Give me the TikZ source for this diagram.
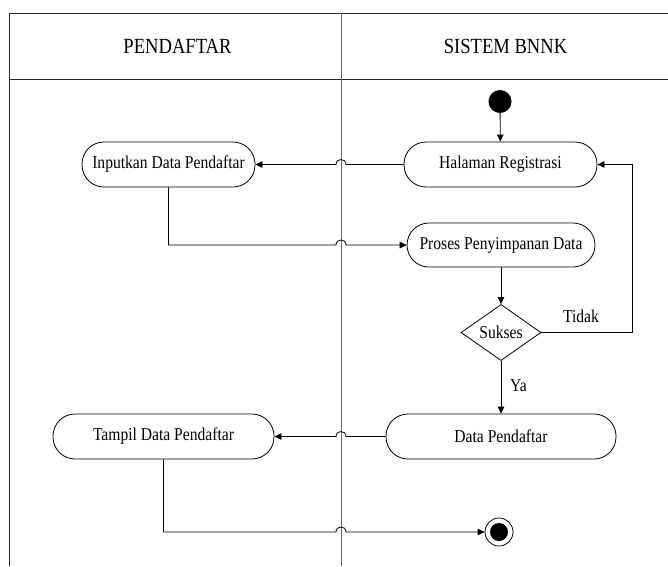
\documentclass[tikz,border=0pt]{standalone}
\usepackage{fontspec}
\setmainfont{Liberation Serif}
\usepackage{graphicx}
\usetikzlibrary{shapes.geometric,arrows.meta}
\newcommand\vst[1]{\scalebox{1}[1.16]{#1}}
\tikzset{
  act/.style={draw, line width=0.8pt, rectangle, rounded corners=22pt, minimum height=45pt, inner sep=0pt,
              font=\fontsize{15.6}{18}\selectfont},
  hdr/.style={font=\fontsize{18.6}{22}\selectfont, inner sep=0pt},
  lbl/.style={font=\fontsize{15.6}{18}\selectfont, inner sep=0pt},
  arr/.style={line width=0.8pt, -{Triangle[length=7pt,width=6.5pt]}},
  frame/.style={line width=0.9pt, black!85},
  lane/.style={line width=0.9pt, black!60},
}
\begin{document}
\begin{tikzpicture}[x=1pt,y=-1pt]
\useasboundingbox (0,0) rectangle (668,566);
% swimlane frame
\draw[frame] (9,566) -- (9,13) -- (668,13);
\draw[frame] (9,79) -- (668,79);
\draw[lane] (341,13) -- (341,566);
\node[hdr] (h1) at (177.5,46.5) {\vst{PENDAFTAR}};
\node[hdr] (h2) at (505.5,46.5) {\vst{SISTEM BNNK}};
% nodes
\node[circle, fill=black, minimum size=23pt, inner sep=0pt] (ini) at (500,101.5) {};
\node[act, minimum width=193pt] (hal) at (500.5,164.5) {\vst{Halaman Registrasi}};
\node[act, minimum width=173pt] (inp) at (168.5,164.5) {\vst{Inputkan Data Pendaftar}};
\node[act, minimum width=188pt, minimum height=44pt] (pro) at (501,245) {\vst{Proses Penyimpanan Data}};
\node[diamond, draw, line width=0.8pt, minimum width=80pt, minimum height=51pt, inner sep=0pt,
      font=\fontsize{15.6}{18}\selectfont] (suk) at (501,332.5) {\vst{Sukses}};
\node[act, minimum width=230pt] (dat) at (501,436.5) {\vst{Data Pendaftar}};
\node[act, minimum width=221pt] (tam) at (163.5,436.5) {\vst{Tampil Data Pendaftar}};
\node[circle, draw, line width=0.8pt, minimum size=28pt, inner sep=0pt] (fin) at (499,532) {};
\node[circle, fill=black, minimum size=18pt, inner sep=0pt] (finin) at (fin.center) {};
% labels
\node[lbl] (tidak) at (581,316.5) {\vst{Tidak}};
\node[lbl] (ya) at (518.5,386) {\vst{Ya}};
% connectors
\draw[arr] (ini) -- (hal);
\draw[arr] (hal.west) -- (346,164.5) .. controls (346,157.8) and (336,157.8) .. (336,164.5) -- (inp.east);
\draw[arr] (inp.south) |- (336,245) .. controls (336,238.3) and (346,238.3) .. (346,245) -- (pro.west);
\draw[arr] (pro) -- (suk);
\draw[arr] (suk.east) -- (632,332.5) |- (hal.east);
\draw[arr] (suk) -- (dat);
\draw[arr] (dat.west) -- (346,436.5) .. controls (346,429.8) and (336,429.8) .. (336,436.5) -- (tam.east);
\draw[arr] (tam.south) |- (336,532) .. controls (336,525.3) and (346,525.3) .. (346,532) -- (fin.west);
\end{tikzpicture}
\end{document}
